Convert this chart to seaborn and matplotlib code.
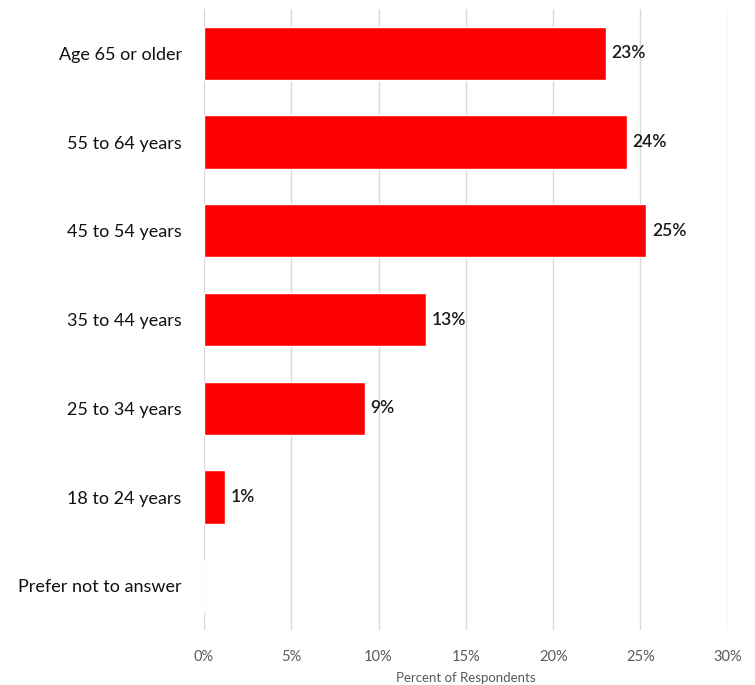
import matplotlib
matplotlib.use("Agg")
import matplotlib.pyplot as plt
import pandas as pd
import seaborn as sns
from matplotlib.ticker import FuncFormatter

# Survey data
age_groups = ["Age 65 or older", "55 to 64 years", "45 to 54 years", "35 to 44 years",
              "25 to 34 years", "18 to 24 years", "Prefer not to answer"]
percent = [23.0, 24.2, 25.3, 12.7, 9.2, 1.2, 0.0]
bar_labels = ["23%", "24%", "25%", "13%", "9%", "1%", ""]

df = pd.DataFrame({"Age": age_groups, "Percent": percent})

sns.set_style("white")
plt.rcParams["font.family"] = ["Lato", "DejaVu Sans"]

fig = plt.figure(figsize=(7.55, 6.85), dpi=100)
ax = fig.add_axes([0.270, 0.080, 0.694, 0.907])

sns.barplot(data=df, x="Percent", y="Age", orient="h", color="#ff0000",
            saturation=1, width=0.6, ax=ax)

for patch, lab in zip(ax.patches, bar_labels):
    if lab:
        ax.text(patch.get_width() + 0.35, patch.get_y() + patch.get_height() / 2, lab,
                va="center", ha="left", fontsize=12.5, color="#1a1a1a", fontweight="semibold")

ax.set_xlim(0, 30)
ax.set_xticks(range(0, 31, 5))
ax.xaxis.set_major_formatter(FuncFormatter(lambda v, p: f"{v:.0f}%"))
ax.grid(axis="x", color="#d9d9d9", linewidth=1)
ax.set_axisbelow(True)
for s in ax.spines.values():
    s.set_visible(False)
ax.tick_params(axis="x", labelsize=10.5, labelcolor="#595959", length=0, pad=14)
ax.tick_params(axis="y", labelsize=13, labelcolor="#111111", length=0, pad=16)
ax.set_ylabel("")
ax.set_xlabel("Percent of Respondents", fontsize=9.5, color="#595959", labelpad=6)

fig.savefig("out.png", dpi=100)
